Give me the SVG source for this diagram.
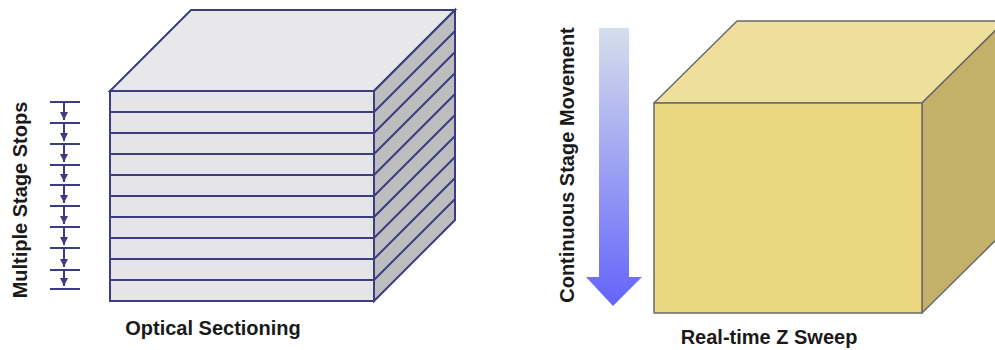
<svg xmlns="http://www.w3.org/2000/svg" width="995" height="350" viewBox="0 0 995 350">
<defs>
<linearGradient id="arrowGrad" x1="0" y1="0" x2="0" y2="1">
<stop offset="0" stop-color="#d6dfec"/>
<stop offset="1" stop-color="#6464fa"/>
</linearGradient>
<marker id="tri" viewBox="0 0 10 10" refX="10" refY="5" markerWidth="8" markerHeight="8" markerUnits="userSpaceOnUse" orient="auto">
<path d="M0,0 L10,5 L0,10 Z" fill="#3c3c80"/>
</marker>
</defs>
<style>
.lbl{font-family:"Liberation Sans",Arial,sans-serif;font-weight:bold;font-size:20px;fill:#1a1a1a}
.sl{stroke:#3c3c80;stroke-width:2}
.tick{stroke:#3c3c80;stroke-width:2}
.ycube{stroke:#6a6a6a;stroke-width:1.5;stroke-linejoin:round}
</style>
<rect width="995" height="350" fill="#ffffff"/>

<g id="optical-cube">
<polygon points="110,91 191,10 455,10 374,91" fill="#e8e8ea" class="sl"/>
<polygon points="374,91 455,10 455,220 374,301" fill="#bdbdbf" class="sl"/>
<rect x="110" y="91" width="264" height="210" fill="#e5e5e7" class="sl"/>
<g class="sl" fill="none">
<path d="M110,112 H374 L455,31"/>
<path d="M110,133 H374 L455,52"/>
<path d="M110,154 H374 L455,73"/>
<path d="M110,175 H374 L455,94"/>
<path d="M110,196 H374 L455,115"/>
<path d="M110,217 H374 L455,136"/>
<path d="M110,238 H374 L455,157"/>
<path d="M110,259 H374 L455,178"/>
<path d="M110,280 H374 L455,199"/>
</g>
</g>

<g id="stage-stops">
<g class="tick">
<line x1="50" y1="102" x2="80" y2="102"/>
<line x1="50" y1="123" x2="80" y2="123"/>
<line x1="50" y1="144" x2="80" y2="144"/>
<line x1="50" y1="165" x2="80" y2="165"/>
<line x1="50" y1="185" x2="80" y2="185"/>
<line x1="50" y1="206" x2="80" y2="206"/>
<line x1="50" y1="227" x2="80" y2="227"/>
<line x1="50" y1="248" x2="80" y2="248"/>
<line x1="50" y1="270" x2="80" y2="270"/>
<line x1="50" y1="289" x2="80" y2="289"/>
</g>
<g class="tick" stroke-width="1.5">
<line x1="64" y1="102" x2="64" y2="120" marker-end="url(#tri)"/>
<line x1="64" y1="123" x2="64" y2="141" marker-end="url(#tri)"/>
<line x1="64" y1="144" x2="64" y2="162" marker-end="url(#tri)"/>
<line x1="64" y1="165" x2="64" y2="182" marker-end="url(#tri)"/>
<line x1="64" y1="185" x2="64" y2="203" marker-end="url(#tri)"/>
<line x1="64" y1="206" x2="64" y2="224" marker-end="url(#tri)"/>
<line x1="64" y1="227" x2="64" y2="245" marker-end="url(#tri)"/>
<line x1="64" y1="248" x2="64" y2="267" marker-end="url(#tri)"/>
<line x1="64" y1="270" x2="64" y2="286" marker-end="url(#tri)"/>
</g>
</g>

<text class="lbl" transform="translate(27,200) rotate(-90)" text-anchor="middle">Multiple Stage Stops</text>
<text class="lbl" x="213" y="335" text-anchor="middle">Optical Sectioning</text>

<g id="zsweep-cube">
<polygon points="654,103 737,21 1005,21 922,103" fill="#efdf9c" class="ycube"/>
<polygon points="922,103 1005,21 1005,231 922,313" fill="#c3b169" class="ycube"/>
<rect x="654" y="103" width="268" height="210" fill="#ead77f" class="ycube"/>
</g>

<g id="movement-arrow">
<polygon points="599,28 629,28 629,277 642,277 613,306 586,277 599,277" fill="url(#arrowGrad)"/>
</g>

<text class="lbl" transform="translate(574,165) rotate(-90)" text-anchor="middle">Continuous Stage Movement</text>
<text class="lbl" x="769" y="344" text-anchor="middle">Real-time Z Sweep</text>
</svg>
